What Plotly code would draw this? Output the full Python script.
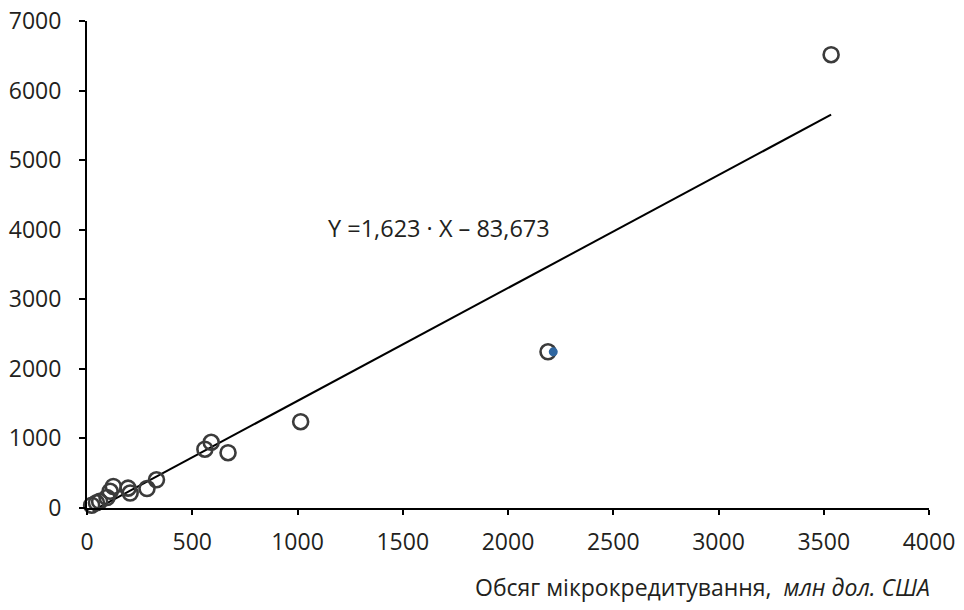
import plotly.graph_objects as go

# Data
x_vals = [22, 45, 60, 95, 110, 125, 195, 205, 285, 330, 560, 590, 670, 1015, 2190, 3535]
y_vals = [40, 75, 95, 150, 240, 310, 285, 215, 280, 405, 845, 945, 795, 1240, 2245, 6515]
highlight_x = [2215]
highlight_y = [2245]

slope = 1.623
intercept = -83.673
equation_text = "Y =1,623 · X – 83,673"
x_title = "Обсяг мікрокредитування,&nbsp; <i>млн дол. США</i>"

x_ticks = [0, 500, 1000, 1500, 2000, 2500, 3000, 3500, 4000]
y_ticks = [0, 1000, 2000, 3000, 4000, 5000, 6000, 7000]

FONT = "Open Sans"
TXT = "#231f20"
FS = 23

line_x = [min(x_vals), max(x_vals)]
line_y = [slope * v + intercept for v in line_x]

# page has an 8px body margin; size the figure to fit the 964x610 window
W, H = 948, 594
ml, mr, mt, mb = 79, 27, 13, 94

fig = go.Figure()
fig.add_trace(go.Scatter(
    x=line_x, y=line_y, mode="lines",
    line=dict(color="black", width=2), cliponaxis=False, hoverinfo="skip"))
fig.add_trace(go.Scatter(
    x=x_vals, y=y_vals, mode="markers",
    marker=dict(symbol="circle-open", size=15, color="#3b3b3b", line=dict(width=2.6, color="#3b3b3b")),
    cliponaxis=False))
fig.add_trace(go.Scatter(
    x=highlight_x, y=highlight_y, mode="markers",
    marker=dict(symbol="circle", size=9, color="#2f66a0"),
    cliponaxis=False))

fig.add_annotation(x=1670, y=4025, xref="x", yref="y", text=equation_text,
                   showarrow=False, font=dict(family=FONT, size=23.5, color=TXT))
# x-axis title, right aligned under the axis end (pixel positions in figure coords)
title_right_px = 924
title_center_py = 579
fig.add_annotation(x=(title_right_px - ml) / (W - ml - mr),
                   y=(H - mb - title_center_py) / (H - mt - mb),
                   xref="paper", yref="paper", text=x_title,
                   showarrow=False, xanchor="right", yanchor="middle",
                   font=dict(family=FONT, size=FS, color=TXT))

fig.update_layout(
    width=W, height=H,
    margin=dict(l=ml, r=mr, t=mt, b=mb, pad=0, autoexpand=False),
    plot_bgcolor="white", paper_bgcolor="white",
    showlegend=False,
    font=dict(family=FONT, size=FS, color=TXT),
)
fig.update_xaxes(range=[0, 4000], tickvals=x_ticks, ticktext=[str(v) for v in x_ticks],
                 showgrid=False, zeroline=False, showline=True, linecolor="black", linewidth=2,
                 ticks="outside", ticklen=5, tickwidth=2, tickcolor="black",
                 ticklabelstandoff=7, automargin=False, ticklabeloverflow="allow",
                 tickfont=dict(family=FONT, size=FS, color=TXT))
fig.update_yaxes(range=[0, 7000], tickvals=y_ticks, ticktext=[str(v) for v in y_ticks],
                 showgrid=False, zeroline=False, showline=True, linecolor="black", linewidth=2,
                 ticks="outside", ticklen=6, tickwidth=2, tickcolor="black",
                 ticklabelstandoff=13, automargin=False, ticklabeloverflow="allow",
                 tickfont=dict(family=FONT, size=FS, color=TXT))

fig.write_html("out.html")
